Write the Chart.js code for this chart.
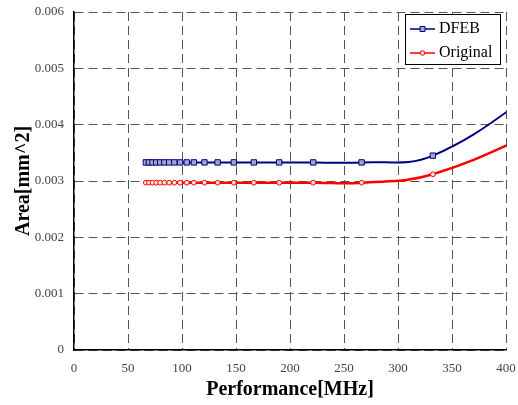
<!DOCTYPE html>
<html>
<head>
<meta charset="utf-8">
<script src="https://cdn.jsdelivr.net/npm/chart.js@4.4.1/dist/chart.umd.min.js"></script>
<style>
  html, body { margin: 0; padding: 0; background: #fff; }
</style>
</head>
<body>
<canvas id="areaChart" width="518" height="405"></canvas>
<script>
// valores
var freqMHz = [66.5, 69.4, 72.7, 76.2, 79.8, 83.7, 88.1, 92.9, 98.2, 104.4, 111, 120.8, 133, 148, 166.5, 190, 221.5, 266.3, 332.3, 444];
var dfebArea = [0.00333, 0.00333, 0.00333, 0.00333, 0.00333, 0.00333, 0.00333, 0.00333, 0.00333, 0.00333, 0.00333, 0.00333, 0.00333, 0.00333, 0.00333, 0.00333, 0.00333, 0.00333, 0.00345, 0.0048];
var originalArea = [0.00297, 0.00297, 0.00297, 0.00297, 0.00297, 0.00297, 0.00297, 0.00297, 0.00297, 0.00297, 0.00297, 0.00297, 0.00297, 0.00297, 0.00297, 0.00297, 0.00297, 0.00297, 0.00312, 0.0040];
var seriesNames = ['DFEB', 'Original'];
var xTicks = [0, 50, 100, 150, 200, 250, 300, 350, 400];
var yTicks = [0, 0.001, 0.002, 0.003, 0.004, 0.005, 0.006];

function toPoints(xs, ys) {
    return xs.map(function (x, i) { return { x: x, y: ys[i] }; });
}

var serif = 'Liberation Serif';

// leyenda con marco dentro del area del grafico
var boxLegend = {
    id: 'boxLegend',
    afterDraw: function (chart) {
        var ctx = chart.ctx;
        var area = chart.chartArea;
        var w = 95, h = 50;
        var x = Math.round(area.right - 6 - w), y = Math.round(area.top + 2);
        ctx.save();
        ctx.fillStyle = '#fff';
        ctx.fillRect(x, y, w, h);
        ctx.strokeStyle = '#000';
        ctx.lineWidth = 1;
        ctx.strokeRect(x + 0.5, y + 0.5, w, h);
        chart.data.datasets.forEach(function (ds, i) {
            var cy = y + 15 + i * 24;
            ctx.strokeStyle = ds.borderColor;
            ctx.lineWidth = 1.5;
            ctx.beginPath();
            ctx.moveTo(x + 5, cy);
            ctx.lineTo(x + 30, cy);
            ctx.stroke();
            ctx.fillStyle = ds.pointBackgroundColor;
            ctx.strokeStyle = ds.pointBorderColor;
            ctx.lineWidth = 1;
            ctx.beginPath();
            if (ds.pointStyle === 'rect') {
                ctx.rect(x + 15, cy - 2.5, 5, 5);
            } else {
                ctx.arc(x + 17.5, cy, 2.3, 0, Math.PI * 2);
            }
            ctx.fill();
            ctx.stroke();
            ctx.fillStyle = '#000';
            ctx.font = '16px "' + serif + '"';
            ctx.textBaseline = 'middle';
            ctx.fillText(ds.label, x + 34, cy);
        });
        ctx.restore();
    }
};

var ctx = document.getElementById('areaChart').getContext('2d');

var areaChart = new Chart(ctx, {
    type: 'line',
    data: {
        datasets: [{
            label: seriesNames[0],
            data: toPoints(freqMHz, dfebArea),
            borderColor: '#000080',
            borderWidth: 2,
            pointStyle: 'rect',
            pointRadius: 3.8,
            pointBackgroundColor: '#a4a4cc',
            pointBorderColor: '#000080',
            pointBorderWidth: 1,
            tension: 0.4
        }, {
            label: seriesNames[1],
            data: toPoints(freqMHz, originalArea),
            borderColor: '#ff0000',
            borderWidth: 2.5,
            pointStyle: 'circle',
            pointRadius: 2.4,
            pointBackgroundColor: '#ffe6e6',
            pointBorderColor: '#ff0000',
            pointBorderWidth: 1,
            tension: 0.4
        }]
    },
    options: {
        responsive: false,
        animation: false,
        events: [],
        layout: { padding: { top: 12, right: 12, left: 0, bottom: 0 } },
        plugins: {
            legend: { display: false },
            tooltip: { enabled: false }
        },
        scales: {
            x: {
                type: 'linear',
                min: 0,
                max: 400,
                afterBuildTicks: function (scale) {
                    scale.ticks = xTicks.map(function (v) { return { value: v }; });
                },
                afterFit: function (scale) {
                    scale.height = 55;
                    scale.paddingLeft = 0;
                    scale.paddingRight = 0;
                },
                grid: { color: '#555', lineWidth: 1, drawTicks: false },
                border: { display: true, color: '#000', width: 1.5, dash: [9, 5] },
                ticks: {
                    padding: 11,
                    color: '#444',
                    maxRotation: 0,
                    font: { family: serif, size: 13 }
                },
                title: {
                    display: true,
                    text: 'Performance[MHz]',
                    color: '#000',
                    padding: { top: 0, bottom: 3 },
                    font: { family: serif, size: 20, weight: 'bold' }
                }
            },
            y: {
                min: 0,
                max: 0.006,
                afterBuildTicks: function (scale) {
                    scale.ticks = yTicks.map(function (v) { return { value: v }; });
                },
                afterFit: function (scale) {
                    scale.width = 74;
                    scale.paddingTop = 0;
                    scale.paddingBottom = 0;
                },
                grid: { color: '#555', lineWidth: 1, drawTicks: false },
                border: { display: true, color: '#000', width: 1.5, dash: [9, 5] },
                ticks: {
                    padding: 10,
                    color: '#444',
                    font: { family: serif, size: 13 },
                    callback: function (value) {
                        return value === 0 ? '0' : value.toFixed(3);
                    }
                },
                title: {
                    display: true,
                    text: 'Area[mm^2]',
                    color: '#000',
                    padding: { top: 12, bottom: 0 },
                    font: { family: serif, size: 20, weight: 'bold' }
                }
            }
        }
    },
    plugins: [boxLegend]
});
</script>
</body>
</html>
